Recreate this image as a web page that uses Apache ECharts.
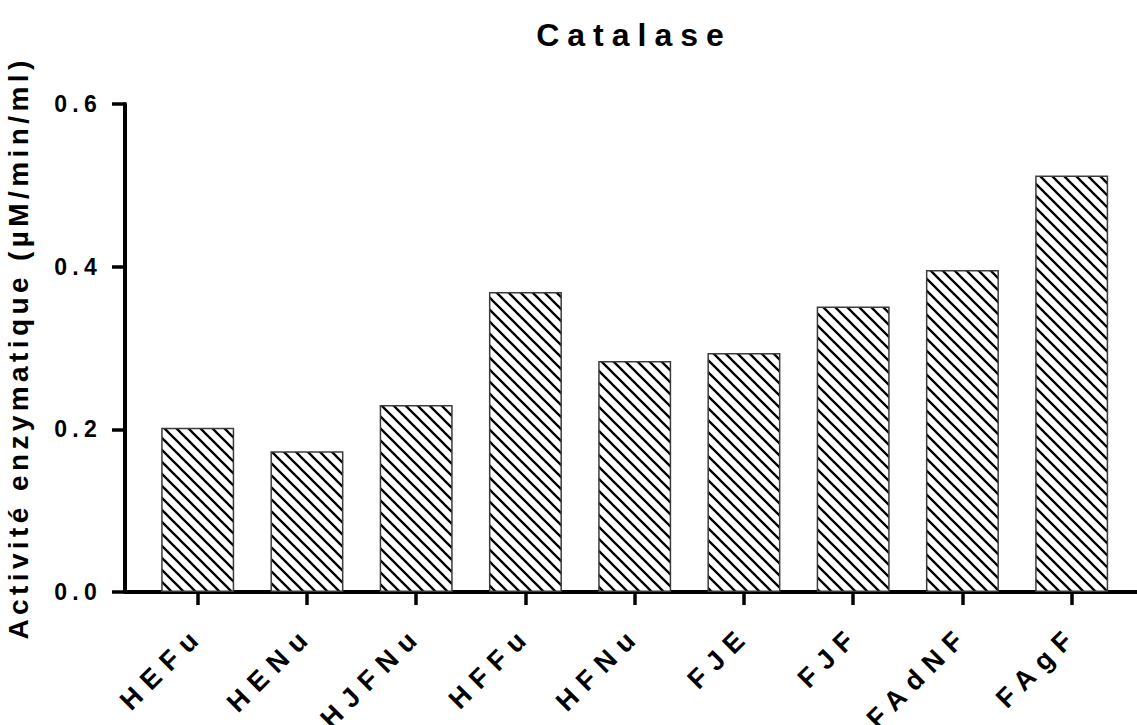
<!DOCTYPE html>
<html>
<head>
<meta charset="utf-8">
<script src="https://cdn.jsdelivr.net/npm/echarts@6/dist/echarts.min.js"></script>
<style>
  html, body { margin: 0; padding: 0; background: #ffffff; }
  #chart { width: 1137px; height: 725px; }
</style>
</head>
<body>
<div id="chart"></div>
<script>
// Samples and their catalase activity (µM/min/ml)
const categories = ['HEFu', 'HENu', 'HJFNu', 'HFFu', 'HFNu', 'FJE', 'FJF', 'FAdNF', 'FAgF'];
const activity = [0.202, 0.173, 0.230, 0.369, 0.284, 0.294, 0.351, 0.396, 0.512];

// Y axis range and step
const yMin = 0;
const yMax = 0.6;
const yStep = 0.2;

const titleText = 'Catalase';
const yAxisTitle = 'Activité enzymatique (µM/min/ml)';

const FONT = "'Liberation Sans', Arial, Helvetica, sans-serif";

// Category positions on a numeric axis (0 .. n-1)
const positions = categories.map((_, i) => i);
const barData = activity.map((v, i) => [positions[i], v]);

// Diagonal "\" hatch tile for the bars
function hatchTile() {
  const size = 12;
  const c = document.createElement('canvas');
  c.width = size; c.height = size;
  const ctx = c.getContext('2d');
  ctx.fillStyle = '#ffffff';
  ctx.fillRect(0, 0, size, size);
  ctx.strokeStyle = '#000000';
  ctx.lineWidth = 2.3;
  ctx.beginPath();
  for (const k of [-size, 0, size]) {
    ctx.moveTo(k - 1, -1);
    ctx.lineTo(k + size + 1, size + 1);
  }
  ctx.stroke();
  return c;
}

// Letter spacing per font size (px)
const LETTER_SPACING = { 32: 8, 23: 5.3, 28: 4.4, 27: 9 };

const chart = echarts.init(document.getElementById('chart'), null, { renderer: 'svg' });

const option = {
  animation: false,
  backgroundColor: '#ffffff',
  title: {
    text: titleText,
    left: 634,
    top: 19,
    padding: 0,
    textAlign: 'center',
    textStyle: { fontFamily: FONT, fontSize: 32, fontWeight: 'bold', color: '#000' }
  },
  grid: { left: 125, right: 0, top: 104, bottom: 133, containLabel: false, outerBoundsMode: 'none' },
  xAxis: {
    type: 'value',
    min: -0.6654,
    max: 8.598,
    splitLine: { show: false },
    axisLine: { show: true, onZero: false, lineStyle: { color: '#000', width: 4 } },
    axisTick: { show: true, length: 13, customValues: positions, lineStyle: { color: '#000', width: 3.5 } },
    axisLabel: {
      show: true,
      customValues: positions.map(p => p + 0.02),
      rotate: 45,
      margin: 38,
      formatter: v => categories[Math.round(v)] || '',
      fontFamily: FONT, fontSize: 27, fontWeight: 'bold', color: '#000'
    }
  },
  yAxis: {
    type: 'value',
    min: yMin,
    max: yMax,
    interval: yStep,
    splitLine: { show: false },
    axisLine: { show: true, onZero: false, lineStyle: { color: '#000', width: 4 } },
    axisTick: { show: true, length: 13, lineStyle: { color: '#000', width: 3.5 } },
    axisLabel: {
      margin: 23,
      padding: [8, 0, 0, 0],
      formatter: v => v.toFixed(1),
      fontFamily: FONT, fontSize: 23, fontWeight: 'bold', color: '#000'
    },
    name: yAxisTitle,
    nameLocation: 'middle',
    nameGap: 93,
    nameTextStyle: {
      fontFamily: FONT, fontSize: 28, fontWeight: 'bold', color: '#000'
    }
  },
  series: [{
    type: 'bar',
    data: barData,
    barWidth: 73,
    itemStyle: {
      color: { image: hatchTile(), repeat: 'repeat', imageWidth: 12, imageHeight: 12 },
      borderColor: '#3c3c3c',
      borderWidth: 1.5
    },
    emphasis: { disabled: true }
  }]
};

chart.setOption(option);

function applyLetterSpacing() {
  document.querySelectorAll('#chart text').forEach(t => {
    const fs = Math.round(parseFloat(getComputedStyle(t).fontSize));
    const s = LETTER_SPACING[fs];
    if (s != null) t.style.letterSpacing = s + 'px';
  });
}
chart.on('finished', applyLetterSpacing);
applyLetterSpacing();
</script>
</body>
</html>
